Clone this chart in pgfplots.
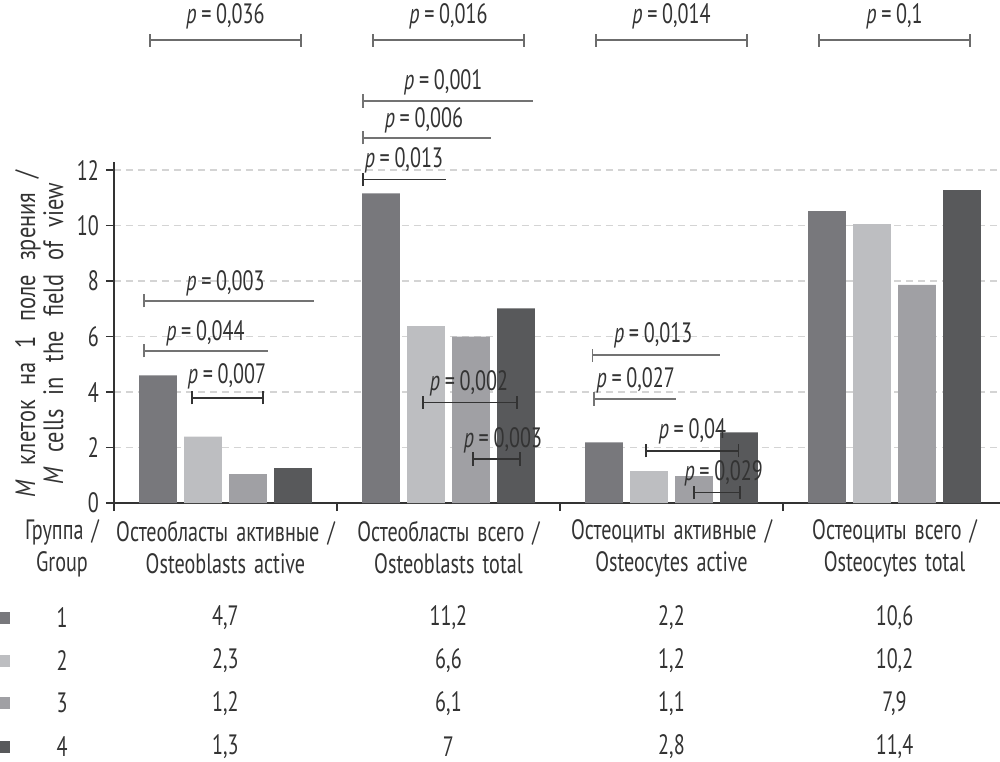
\documentclass[border=0pt]{standalone}
\usepackage{fontspec}
\setmainfont{PT Sans}[FakeStretch=0.72, WordSpace=1.5]
\newfontfamily\ylab{PT Sans}[FakeStretch=0.8, WordSpace=2.4]
\usepackage{pgfplots}
\pgfplotsset{compat=1.18}
\definecolor{cA}{HTML}{78787C}
\definecolor{cB}{HTML}{BDBEC1}
\definecolor{cC}{HTML}{A0A0A4}
\definecolor{cD}{HTML}{58595B}
\definecolor{txt}{HTML}{333333}
\definecolor{gridc}{HTML}{D4D4D4}
\newcommand{\brL}[4]{%
  \draw[#4] (axis cs:#1,#3) -- (axis cs:#2,#3);
  \draw[#4] ([yshift=-3.3pt]axis cs:#1,#3) -- ([yshift=3.3pt]axis cs:#1,#3);}
\newcommand{\brB}[4]{%
  \draw[#4] (axis cs:#1,#3) -- (axis cs:#2,#3);
  \draw[#4] ([yshift=-3.3pt]axis cs:#1,#3) -- ([yshift=3.3pt]axis cs:#1,#3);
  \draw[#4] ([yshift=-3.3pt]axis cs:#2,#3) -- ([yshift=3.3pt]axis cs:#2,#3);}
\newcommand{\pl}[1]{\textit{p}\,=\,#1}
\begin{document}
\begin{tikzpicture}[font=\fontsize{14}{16}\selectfont, every node/.style={text=txt}]
\begin{axis}[
  scale only axis, width=443pt, height=170.5pt,
  xmin=-0.5, xmax=3.473, ymin=0, ymax=12.29,
  axis lines=left, axis line style={-, draw=txt, line width=0.75pt},
  xtick={-0.5,0.5,1.5,2.5}, xticklabels={},
  ytick={0,2,4,6,8,10,12},
  tick align=outside, major tick length=4pt,
  tick style={draw=txt, line width=0.6pt},
  ymajorgrids, grid style={draw=gridc, line width=0.7pt, dash pattern=on 3.5pt off 2.5pt},
  /pgf/number format/assume math mode=true,
  yticklabel style={font=\fontsize{14}{16}\selectfont, text=txt},
  ybar, bar width=0.17, bar shift=0pt,
  clip=false,
]
\addplot[fill=cA, draw=none] coordinates {(-0.3027,4.6) (0.6973,11.16) (1.6973,2.19) (2.6973,10.52)};
\addplot[fill=cB, draw=none] coordinates {(-0.1009,2.39) (0.8991,6.38) (1.8991,1.15) (2.8991,10.05)};
\addplot[fill=cC, draw=none] coordinates {(0.1009,1.04) (1.1009,6.0) (2.1009,0.97) (3.1009,7.86)};
\addplot[fill=cD, draw=none] coordinates {(0.3027,1.26) (1.3027,7.02) (2.3027,2.55) (3.3027,11.28)};

% top brackets
\brB{-0.337}{0.337}{16.68}{draw=gray!85!black, line width=1.1pt}
\brB{0.663}{1.337}{16.68}{draw=gray!85!black, line width=1.1pt}
\brB{1.663}{2.337}{16.68}{draw=gray!85!black, line width=1.1pt}
\brB{2.663}{3.337}{16.68}{draw=gray!85!black, line width=1.1pt}
\node at (axis cs:0,17.55) {\pl{0,036}};
\node at (axis cs:1,17.55) {\pl{0,016}};
\node at (axis cs:2,17.55) {\pl{0,014}};
\node at (axis cs:3,17.55) {\pl{0,1}};

% category 1
\brL{-0.365}{0.397}{7.29}{draw=gray!90!black, line width=0.8pt}
\node at (axis cs:0.0,7.93) {\pl{0,003}};
\brL{-0.365}{0.19}{5.49}{draw=gray!90!black, line width=0.8pt}
\node at (axis cs:-0.09,6.13) {\pl{0,044}};
\brB{-0.15}{0.168}{3.79}{draw=txt, line width=0.8pt}
\node at (axis cs:0.007,4.55) {\pl{0,007}};

% category 2
\brL{0.618}{1.38}{14.49}{draw=gray!90!black, line width=0.8pt}
\node at (axis cs:0.977,15.18) {\pl{0,001}};
\brL{0.618}{1.19}{13.16}{draw=gray!90!black, line width=0.8pt}
\node at (axis cs:0.89,13.8) {\pl{0,006}};
\brL{0.618}{0.987}{11.66}{draw=txt, line width=0.8pt}
\node at (axis cs:0.80,12.36) {\pl{0,013}};
\brB{0.887}{1.306}{3.63}{draw=txt, line width=0.8pt}
\node at (axis cs:1.092,4.31) {\pl{0,002}};
\brB{1.111}{1.32}{1.586}{draw=txt, line width=0.8pt}
\node at (axis cs:1.244,2.27) {\pl{0,003}};

% category 3
\brL{1.645}{2.217}{5.33}{draw=gray!90!black, line width=0.8pt}
\node at (axis cs:1.918,6.05) {\pl{0,013}};
\brL{1.652}{2.02}{3.75}{draw=gray!90!black, line width=0.8pt}
\node at (axis cs:1.84,4.43) {\pl{0,027}};
\brB{1.886}{2.30}{1.885}{draw=txt, line width=0.8pt}
\node at (axis cs:2.094,2.57) {\pl{0,04}};
\brB{2.10}{2.307}{0.385}{draw=txt, line width=0.8pt}
\node at (axis cs:2.234,1.07) {\pl{0,029}};

% y label
\node[rotate=90, align=center, font=\ylab\fontsize{14}{14}\selectfont] at (axis cs:-0.835,6.1)
  {\textit{M} клеток на 1 поле зрения /\\\textit{M} cells in the field of view};

% table header
\node[align=center, font=\fontsize{14}{16}\selectfont] at (axis cs:-0.733,-1.62) {Группа /\\Group};
\node[align=center, font=\fontsize{14}{16}\selectfont] at (axis cs:0,-1.62) {Остеобласты активные /\\Osteoblasts active};
\node[align=center, font=\fontsize{14}{16}\selectfont] at (axis cs:1,-1.62) {Остеобласты всего /\\Osteoblasts total};
\node[align=center, font=\fontsize{14}{16}\selectfont] at (axis cs:2,-1.62) {Остеоциты активные /\\Osteocytes active};
\node[align=center, font=\fontsize{14}{16}\selectfont] at (axis cs:3,-1.62) {Остеоциты всего /\\Osteocytes total};

% table rows
\fill[cA] ([xshift=0pt,yshift=-3pt]axis cs:-1.011,-4.14) rectangle ([xshift=5pt,yshift=3pt]axis cs:-1.011,-4.14);
\fill[cB] ([xshift=0pt,yshift=-3pt]axis cs:-1.011,-5.69) rectangle ([xshift=5pt,yshift=3pt]axis cs:-1.011,-5.69);
\fill[cC] ([xshift=0pt,yshift=-3pt]axis cs:-1.011,-7.21) rectangle ([xshift=5pt,yshift=3pt]axis cs:-1.011,-7.21);
\fill[cD] ([xshift=0pt,yshift=-3pt]axis cs:-1.011,-8.79) rectangle ([xshift=5pt,yshift=3pt]axis cs:-1.011,-8.79);

\node at (axis cs:-0.733,-4.14) {1};
\node at (axis cs:0,-4.14) {4,7};
\node at (axis cs:1,-4.14) {11,2};
\node at (axis cs:2,-4.14) {2,2};
\node at (axis cs:3,-4.14) {10,6};

\node at (axis cs:-0.733,-5.69) {2};
\node at (axis cs:0,-5.69) {2,3};
\node at (axis cs:1,-5.69) {6,6};
\node at (axis cs:2,-5.69) {1,2};
\node at (axis cs:3,-5.69) {10,2};

\node at (axis cs:-0.733,-7.21) {3};
\node at (axis cs:0,-7.21) {1,2};
\node at (axis cs:1,-7.21) {6,1};
\node at (axis cs:2,-7.21) {1,1};
\node at (axis cs:3,-7.21) {7,9};

\node at (axis cs:-0.733,-8.79) {4};
\node at (axis cs:0,-8.79) {1,3};
\node at (axis cs:1,-8.79) {7};
\node at (axis cs:2,-8.79) {2,8};
\node at (axis cs:3,-8.79) {11,4};

\coordinate (BL) at (axis cs:-1.011,-9.33);
\coordinate (TR) at (axis cs:3.473,18.13);
\end{axis}
\pgfresetboundingbox
\path (BL) rectangle (TR);
\end{tikzpicture}
\end{document}
